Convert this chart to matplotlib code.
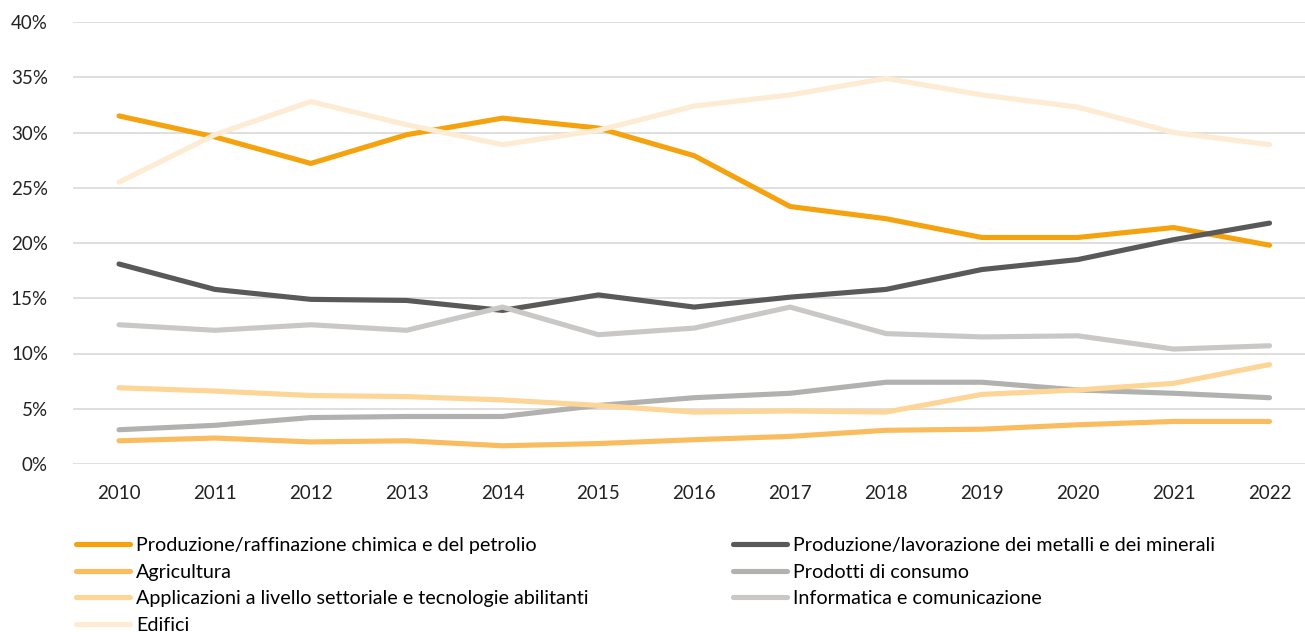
import matplotlib
matplotlib.use("Agg")
import matplotlib.pyplot as plt
from matplotlib.lines import Line2D
from matplotlib.ticker import FuncFormatter

plt.rcParams['font.family'] = ['Lato', 'DejaVu Sans']

years = [2010, 2011, 2012, 2013, 2014, 2015, 2016, 2017, 2018, 2019, 2020, 2021, 2022]

# quote percentuali per settore
chimica = [31.5, 29.6, 27.2, 29.8, 31.3, 30.4, 27.9, 23.3, 22.2, 20.5, 20.5, 21.4, 19.8]
metalli = [18.1, 15.8, 14.9, 14.8, 13.9, 15.3, 14.2, 15.1, 15.8, 17.6, 18.5, 20.3, 21.8]
agricoltura = [2.1, 2.35, 2.0, 2.1, 1.65, 1.85, 2.2, 2.5, 3.05, 3.15, 3.55, 3.85, 3.85]
consumo = [3.1, 3.5, 4.2, 4.3, 4.3, 5.3, 6.0, 6.4, 7.4, 7.4, 6.7, 6.4, 6.0]
applicazioni = [6.9, 6.6, 6.2, 6.1, 5.8, 5.3, 4.7, 4.8, 4.7, 6.3, 6.7, 7.3, 9.0]
informatica = [12.6, 12.1, 12.6, 12.1, 14.2, 11.7, 12.3, 14.2, 11.8, 11.5, 11.6, 10.4, 10.7]
edifici = [25.5, 29.8, 32.8, 30.7, 28.9, 30.2, 32.4, 33.4, 34.9, 33.4, 32.3, 30.0, 28.9]

labels = [
    "Produzione/raffinazione chimica e del petrolio",
    "Produzione/lavorazione dei metalli e dei minerali",
    "Agricultura",
    "Prodotti di consumo",
    "Applicazioni a livello settoriale e tecnologie abilitanti",
    "Informatica e comunicazione",
    "Edifici",
]
series = [chimica, metalli, agricoltura, consumo, applicazioni, informatica, edifici]
colors = ["#F5A20F", "#595959", "#F9BD5F", "#B1B1B0", "#FDD597", "#C9C8C6", "#FDEBD4"]

fig = plt.figure(figsize=(13.05, 6.32), dpi=100)
ax = fig.add_axes([73 / 1305, 1 - 464 / 632, (1305 - 73) / 1305, 442 / 632])

x = list(range(len(years)))
for vals, col, lab in zip(series, colors, labels):
    ax.plot(x, vals, color=col, lw=3.7, solid_capstyle='round',
            solid_joinstyle='round', label=lab)

ax.set_ylim(0, 40)
ax.set_xlim(-0.48, 12.37)
ax.set_yticks(range(0, 41, 5))
ax.yaxis.set_major_formatter(FuncFormatter(lambda v, p: f"{v:.0f}%"))
ax.set_xticks(x)
ax.set_xticklabels([str(y) for y in years])
ax.grid(axis='y', color='#D9D9D9', lw=1.2)
ax.set_axisbelow(True)
for s in ax.spines.values():
    s.set_visible(False)
ax.tick_params(length=0, labelsize=13.5, colors='#222222')
ax.tick_params(axis='y', pad=18)
ax.tick_params(axis='x', pad=15)

def handle(i):
    return Line2D([], [], color=colors[i], lw=3.7, solid_capstyle='round')

left = [0, 2, 4, 6]
right = [1, 3, 5]
kw = dict(frameon=False, fontsize=14.2, handlelength=2.75, handletextpad=0.28,
          labelspacing=0.49, borderpad=0, borderaxespad=0, loc='upper left')
fig.legend([handle(i) for i in left], [labels[i] for i in left],
           bbox_to_anchor=(76 / 1305, 1 - 537 / 632), **kw)
fig.legend([handle(i) for i in right], [labels[i] for i in right],
           bbox_to_anchor=(733 / 1305, 1 - 537 / 632), **kw)

fig.savefig("out.png", dpi=100)
